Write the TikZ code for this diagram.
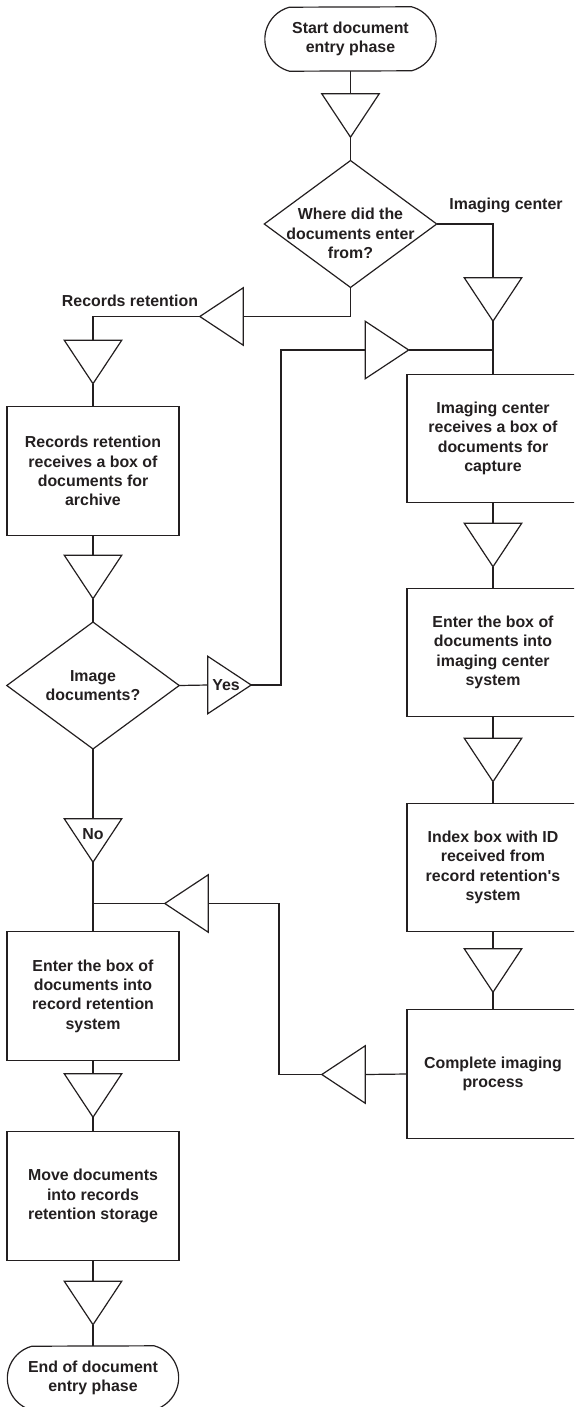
\documentclass[tikz,border=0pt]{standalone}
\usepackage{fontspec}
\setmainfont{Liberation Sans}
\usetikzlibrary{calc}
\definecolor{ink}{RGB}{35,31,32}
\begin{document}
\begin{tikzpicture}[x=1pt,y=1pt,
  every node/.style={font=\bfseries\fontsize{15.9}{19.3}\selectfont, text=ink, align=center, inner sep=0pt},
  line/.style={draw=ink, line width=1.2pt},
  stepbox/.style={rectangle, draw=ink, line width=1.2pt, minimum width=172pt, minimum height=128.5pt},
  termbox/.style={rectangle, minimum width=171pt, minimum height=64pt},
  decbox/.style={rectangle, minimum width=172pt, minimum height=126.5pt},
  tridown/.style={rectangle, minimum width=57pt, minimum height=43pt},
  trileft/.style={rectangle, minimum width=43pt, minimum height=57pt},
  triright/.style={rectangle, minimum width=43pt, minimum height=57pt}]
\clip (0,0) rectangle (574,-1407);

% terminals
\node[termbox] (start) at (350.5,-39) {Start document\\entry phase};
\node[termbox] (end) at (93,-1378) {End of document\\entry phase};

% decisions
\node[decbox] (d1) at (350.5,-224) {};
\node (d1t) at (350.5,-233.5) {Where did the\\documents enter\\from?};
\node[decbox] (d2) at (93,-685.5) {Image\\documents?};

% process boxes, left column
\node[stepbox] (box1) at (93,-471) {Records retention\\receives a box of\\documents for\\archive};
\node[stepbox] (box6) at (93,-996) {Enter the box of\\documents into\\record retention\\system};
\node[stepbox] (box7) at (93,-1196) {Move documents\\into records\\retention storage};

% process boxes, right column
\node[stepbox] (box2) at (493,-438.5) {Imaging center\\receives a box of\\documents for\\capture};
\node[stepbox] (box3) at (493,-652.5) {Enter the box of\\documents into\\imaging center\\system};
\node[stepbox] (box4) at (493,-867.5) {Index box with ID\\received from\\record retention\textquotesingle s\\system};
\node[stepbox] (box5) at (493,-1074) {Complete imaging\\process};

% flow triangles
\node[tridown] (ta) at (350.5,-115.5) {};
\node[tridown] (tb) at (493,-299.5) {};
\node[tridown] (td) at (93,-362) {};
\node[tridown] (te) at (93,-577) {};
\node[tridown] (tno) at (93,-840.5) {};
\node[tridown] (tg) at (493,-545) {};
\node[tridown] (th) at (493,-760) {};
\node[tridown] (ti) at (493,-970.5) {};
\node[tridown] (tj) at (93,-1095.5) {};
\node[tridown] (tk) at (93,-1303) {};
\node[trileft] (tc) at (221.5,-316.5) {};
\node[trileft] (tret) at (343.5,-1074.5) {};
\node[trileft] (tret2) at (186.5,-903.5) {};
\node[triright] (tyes) at (229.5,-685) {};
\node[triright] (tf) at (387,-350) {};

% labels
\node (lblimg) at (506,-205) {Imaging center};
\node (lblrec) at (130,-301) {Records retention};
\node (lblyes) at (226,-685) {Yes};
\node (lblno) at (93,-834) {No};

% outlines
\foreach \n in {start,end}
  \draw[line] ($(\n.north east)+(-24.6,0)$) arc[start angle=75,end angle=-75,radius=33.13]
    -- ($(\n.south west)+(24.6,0)$) arc[start angle=255,end angle=105,radius=33.13] -- cycle;
\foreach \n in {d1,d2}
  \draw[line] (\n.north) -- (\n.east) -- (\n.south) -- (\n.west) -- cycle;
\foreach \n in {ta,tb,td,te,tno,tg,th,ti,tj,tk}
  \draw[line] (\n.north west) -- (\n.north east) -- (\n.south) -- cycle;
\foreach \n in {tc,tret,tret2}
  \draw[line] (\n.north east) -- (\n.south east) -- (\n.west) -- cycle;
\foreach \n in {tyes,tf}
  \draw[line] (\n.north west) -- (\n.south west) -- (\n.east) -- cycle;

% bend points
\coordinate (loopyes) at (281,-350);
\coordinate (loopret) at (279,-903.5);

% connectors
\draw[line] (start.south) -- (ta.north);
\draw[line] (ta.south) -- (d1.north);
\draw[line] (d1.east) -| (tb.north);
\draw[line] (tb.south) -- (box2.north);
\draw[line] (d1.south) |- (tc.east);
\draw[line] (tc.west) -| (td.north);
\draw[line] (td.south) -- (box1.north);
\draw[line] (box1.south) -- (te.north);
\draw[line] (te.south) -- (d2.north);
\draw[line] (d2.east) -- (tyes.west);
\draw[line] (tyes.east) -| (loopyes) -- (tf.west);
\draw[line] (tf.east) -- (tf.east -| box2.north);
\draw[line] (d2.south) -- (tno.north);
\draw[line] (tno.south) -- (box6.north);
\draw[line] (box2.south) -- (tg.north);
\draw[line] (tg.south) -- (box3.north);
\draw[line] (box3.south) -- (th.north);
\draw[line] (th.south) -- (box4.north);
\draw[line] (box4.south) -- (ti.north);
\draw[line] (ti.south) -- (box5.north);
\draw[line] (box5.west) -- (tret.east);
\draw[line] (tret.west) -| (loopret) -- (tret2.east);
\draw[line] (tret2.west) -- (tret2.west -| box6.north);
\draw[line] (box6.south) -- (tj.north);
\draw[line] (tj.south) -- (box7.north);
\draw[line] (box7.south) -- (tk.north);
\draw[line] (tk.south) -- (end.north);
\end{tikzpicture}
\end{document}
